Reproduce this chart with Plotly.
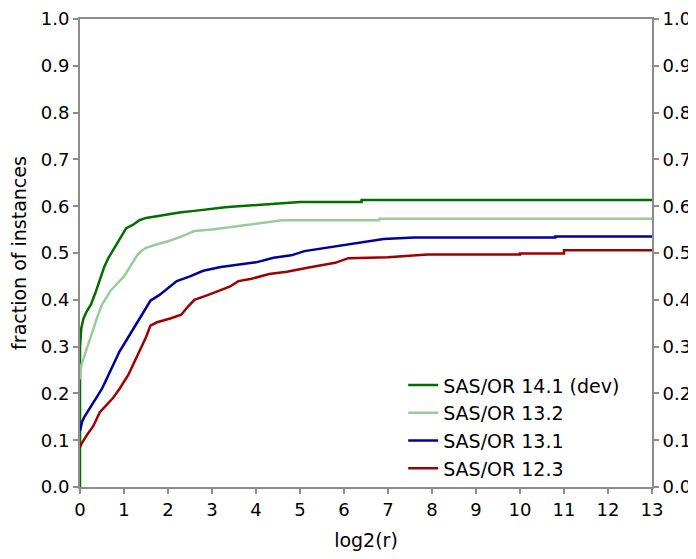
import plotly.graph_objects as go

# performance profile data
x_141 = [0, 0, 0.03, 0.08, 0.15, 0.25, 0.35, 0.45, 0.55, 0.65, 0.75, 0.85, 0.95, 1.05, 1.2,
         1.35, 1.5, 1.7, 2.0, 2.3, 2.6, 3.0, 3.3, 3.6, 4.0, 4.5, 5.0, 6.4, 6.4, 13]
y_141 = [0, 0.30, 0.34, 0.36, 0.375, 0.39, 0.415, 0.445, 0.47, 0.49, 0.505, 0.52, 0.535, 0.553, 0.56,
         0.57, 0.575, 0.578, 0.583, 0.587, 0.59, 0.595, 0.598, 0.60, 0.603, 0.606, 0.609, 0.609, 0.613, 0.613]

x_132 = [0, 0.03, 0.1, 0.2, 0.3, 0.4, 0.5, 0.6, 0.7, 0.8, 0.9, 1.0, 1.1, 1.2, 1.3, 1.4,
         1.5, 1.7, 2.0, 2.3, 2.6, 3.0, 3.4, 3.8, 4.2, 4.6, 6.8, 6.8, 13]
y_132 = [0.23, 0.26, 0.28, 0.31, 0.34, 0.365, 0.39, 0.405, 0.42, 0.43, 0.44, 0.45, 0.465, 0.48, 0.495, 0.505,
         0.511, 0.517, 0.525, 0.535, 0.547, 0.55, 0.555, 0.56, 0.565, 0.570, 0.570, 0.573, 0.573]

x_131 = [0, 0.05, 0.1, 0.2, 0.3, 0.4, 0.5, 0.6, 0.7, 0.8, 0.9, 1.0, 1.1, 1.2, 1.3, 1.45, 1.6,
         1.8, 2.0, 2.2, 2.5, 2.8, 3.2, 3.6, 4.0, 4.4, 4.8, 5.1, 5.7, 6.3, 6.9, 7.6, 10.8, 10.8, 13]
y_131 = [0.12, 0.14, 0.15, 0.165, 0.18, 0.195, 0.21, 0.23, 0.25, 0.27, 0.29, 0.305, 0.32, 0.335, 0.35, 0.375, 0.398,
         0.41, 0.425, 0.44, 0.45, 0.462, 0.47, 0.475, 0.48, 0.49, 0.495, 0.504, 0.513, 0.521, 0.53, 0.533, 0.533, 0.535, 0.535]

x_123 = [0, 0.05, 0.15, 0.3, 0.45, 0.6, 0.75, 0.9, 1.0, 1.1, 1.2, 1.3, 1.4, 1.5, 1.6, 1.75, 2.05, 2.3,
         2.45, 2.6, 2.9, 3.2, 3.4, 3.6, 3.9, 4.3, 4.7, 5.2, 5.8, 6.1, 7.0, 7.9, 10.0, 10.0, 11.0, 11.0, 13]
y_123 = [0.085, 0.095, 0.11, 0.13, 0.16, 0.175, 0.19, 0.21, 0.225, 0.24, 0.26, 0.28, 0.30, 0.32, 0.345, 0.352, 0.36, 0.368,
         0.385, 0.40, 0.41, 0.42, 0.428, 0.44, 0.445, 0.455, 0.46, 0.469, 0.479, 0.489, 0.491, 0.497, 0.497, 0.499, 0.499,
         0.506, 0.506]

names = ["SAS/OR 14.1 (dev)", "SAS/OR 13.2", "SAS/OR 13.1", "SAS/OR 12.3"]
colors = ["#006e00", "#99cc99", "#0000a0", "#a00000"]
xs = [x_141, x_132, x_131, x_123]
ys = [y_141, y_132, y_131, y_123]

y_ticks = [0.0, 0.1, 0.2, 0.3, 0.4, 0.5, 0.6, 0.7, 0.8, 0.9, 1.0]
x_ticks = list(range(0, 14))

fig = go.Figure()
for xx, yy, nm, c in zip(xs, ys, names, colors):
    fig.add_trace(go.Scatter(x=xx, y=yy, name=nm, mode="lines",
                             line=dict(color=c, width=2.5)))

# invisible trace so the right axis gets drawn
fig.add_trace(go.Scatter(x=[0], y=[0], yaxis="y2", mode="lines",
                         line=dict(width=0), showlegend=False, hoverinfo="skip"))

axcol = "#8c8c8c"
fam = "DejaVu Sans, sans-serif"

# page body has an 8px margin, so the figure is a bit smaller than the window
fig.update_layout(
    width=688, height=543,
    margin=dict(l=72, r=44, t=11, b=64),
    plot_bgcolor="white", paper_bgcolor="white",
    font=dict(family=fam, size=18, color="black"),
    showlegend=True,
    legend=dict(x=0.565, y=0.258, xanchor="left", yanchor="top",
                bgcolor="rgba(0,0,0,0)", font=dict(size=19),
                itemwidth=30, tracegroupgap=0),
    xaxis=dict(range=[0, 13], tickvals=x_ticks, showgrid=False, zeroline=False,
               showline=True, linecolor=axcol, linewidth=2, mirror=True,
               ticks="outside", tickcolor=axcol, ticklen=5, tickwidth=2,
               tickfont=dict(size=18), automargin=False, ticklabeloverflow="allow",
               title=dict(text="log2(r)", font=dict(size=19), standoff=16)),
    yaxis=dict(range=[0, 1], tickvals=y_ticks, tickformat=".1f", showgrid=False, zeroline=False,
               showline=True, linecolor=axcol, linewidth=2,
               ticks="outside", tickcolor=axcol, ticklen=5, tickwidth=2,
               tickfont=dict(size=18), automargin=False, ticklabeloverflow="allow",
               title=dict(text="fraction of instances", font=dict(size=19), standoff=10)),
    yaxis2=dict(range=[0, 1], tickvals=y_ticks, tickformat=".1f", overlaying="y", side="right",
                showgrid=False, zeroline=False, showline=True, linecolor=axcol, linewidth=2,
                ticks="outside", tickcolor=axcol, ticklen=5, tickwidth=2,
                tickfont=dict(size=18), automargin=False, ticklabeloverflow="allow"),
)

fig.write_html("out.html")
